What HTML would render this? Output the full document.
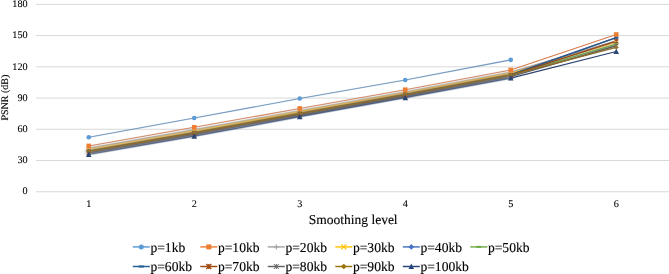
<!DOCTYPE html>
<html><head><meta charset="utf-8"><style>
html,body{margin:0;padding:0;background:#fff;}
body{width:669px;height:274px;overflow:hidden;}
svg{display:block;will-change:transform;}
text{font-family:"Liberation Serif",serif;text-rendering:geometricPrecision;fill:#000;stroke:#000;stroke-width:0.12px;}
text.t{stroke-width:0.08px;}
</style></head><body>
<svg width="669" height="274" viewBox="0 0 669 274">
<defs><filter id="soft" x="-5%" y="-5%" width="110%" height="110%"><feGaussianBlur stdDeviation="0.4"/><feColorMatrix type="saturate" values="0.85"/></filter><filter id="lineblur" x="-5%" y="-20%" width="110%" height="140%"><feGaussianBlur stdDeviation="2.5 0.3"/><feColorMatrix type="saturate" values="0.85"/></filter><filter id="lineblur2" x="-5%" y="-20%" width="110%" height="140%"><feGaussianBlur stdDeviation="1.2 0.15"/><feColorMatrix type="saturate" values="0.7"/></filter><filter id="soft2" x="-5%" y="-50%" width="110%" height="200%"><feGaussianBlur stdDeviation="0.25"/></filter></defs>
<rect width="669" height="274" fill="#fff"/>
<line x1="36" y1="191.75" x2="669" y2="191.75" stroke="#D9D9D9" stroke-width="1"/>
<line x1="36" y1="160.52" x2="669" y2="160.52" stroke="#D9D9D9" stroke-width="1"/>
<line x1="36" y1="129.28" x2="669" y2="129.28" stroke="#D9D9D9" stroke-width="1"/>
<line x1="36" y1="98.05" x2="669" y2="98.05" stroke="#D9D9D9" stroke-width="1"/>
<line x1="36" y1="66.82" x2="669" y2="66.82" stroke="#D9D9D9" stroke-width="1"/>
<line x1="36" y1="35.58" x2="669" y2="35.58" stroke="#D9D9D9" stroke-width="1"/>
<line x1="36" y1="4.35" x2="669" y2="4.35" stroke="#D9D9D9" stroke-width="1"/>
<text class="t" x="27.6" y="194.45" font-size="10.2" text-anchor="end">0</text>
<text class="t" x="27.6" y="163.22" font-size="10.2" text-anchor="end">30</text>
<text class="t" x="27.6" y="131.98" font-size="10.2" text-anchor="end">60</text>
<text class="t" x="27.6" y="100.75" font-size="10.2" text-anchor="end">90</text>
<text class="t" x="27.6" y="69.52" font-size="10.2" text-anchor="end">120</text>
<text class="t" x="27.6" y="38.28" font-size="10.2" text-anchor="end">150</text>
<text class="t" x="27.6" y="7.05" font-size="10.2" text-anchor="end">180</text>
<text class="t" x="88.75" y="206.6" font-size="10.2" text-anchor="middle">1</text>
<text class="t" x="194.25" y="206.6" font-size="10.2" text-anchor="middle">2</text>
<text class="t" x="299.75" y="206.6" font-size="10.2" text-anchor="middle">3</text>
<text class="t" x="405.25" y="206.6" font-size="10.2" text-anchor="middle">4</text>
<text class="t" x="510.75" y="206.6" font-size="10.2" text-anchor="middle">5</text>
<text class="t" x="616.25" y="206.6" font-size="10.2" text-anchor="middle">6</text>
<text x="353.20" y="223.8" font-size="13.5" text-anchor="middle">Smoothing level</text>
<text transform="translate(8.0,97.6) rotate(-90)" font-size="10" text-anchor="middle">PSNR (dB)</text>
<g filter="url(#lineblur2)">
<path d="M88.75 137.30 L194.25 118.04 L299.75 98.47 L405.25 79.93 L510.75 59.84" stroke="#5693ca" stroke-width="1.1" fill="none" stroke-linejoin="round" stroke-linecap="round"/>
<path d="M88.75 145.94 L194.25 127.31 L299.75 108.46 L405.25 89.72 L510.75 69.94" stroke="#e1762e" stroke-width="1.1" fill="none" stroke-linejoin="round" stroke-linecap="round"/>
</g>
<g filter="url(#lineblur)">
<path d="M88.75 148.33 L194.25 129.78 L299.75 110.76 L405.25 91.94 L510.75 72.21" stroke="#9c9c9c" stroke-width="1.45" fill="none" stroke-linejoin="round" stroke-linecap="round"/>
<path d="M88.75 149.36 L194.25 130.84 L299.75 111.75 L405.25 92.89 L510.75 73.19" stroke="#f2b600" stroke-width="1.45" fill="none" stroke-linejoin="round" stroke-linecap="round"/>
<path d="M88.75 150.89 L194.25 132.44 L299.75 113.23 L405.25 94.31 L510.75 74.65" stroke="#406cba" stroke-width="1.45" fill="none" stroke-linejoin="round" stroke-linecap="round"/>
<path d="M88.75 151.23 L194.25 132.79 L299.75 113.56 L405.25 94.63 L510.75 74.97" stroke="#6aa443" stroke-width="1.45" fill="none" stroke-linejoin="round" stroke-linecap="round"/>
<path d="M88.75 151.06 L194.25 132.61 L299.75 113.40 L405.25 94.47 L510.75 74.81" stroke="#235989" stroke-width="1.45" fill="none" stroke-linejoin="round" stroke-linecap="round"/>
<path d="M88.75 151.40 L194.25 132.97 L299.75 113.72 L405.25 94.79 L510.75 75.14" stroke="#96440d" stroke-width="1.45" fill="none" stroke-linejoin="round" stroke-linecap="round"/>
<path d="M88.75 152.94 L194.25 134.56 L299.75 115.21 L405.25 96.21 L510.75 76.60" stroke="#5e5e5e" stroke-width="1.45" fill="none" stroke-linejoin="round" stroke-linecap="round"/>
<path d="M88.75 151.23 L194.25 132.79 L299.75 113.56 L405.25 94.63 L510.75 74.97" stroke="#916d00" stroke-width="1.45" fill="none" stroke-linejoin="round" stroke-linecap="round"/>
<path d="M88.75 154.48 L194.25 136.15 L299.75 116.69 L405.25 97.63 L510.75 78.06" stroke="#244072" stroke-width="1.2" fill="none" stroke-linejoin="round" stroke-linecap="round"/>
</g>
<g filter="url(#soft)">

<path d="M510.75 69.94 L616.25 34.54" stroke="#e1762e" stroke-width="1.1" fill="none" stroke-linejoin="round" stroke-linecap="round"/>
<path d="M510.75 72.21 L616.25 40.89" stroke="#9c9c9c" stroke-width="1.45" fill="none" stroke-linejoin="round" stroke-linecap="round"/>
<path d="M510.75 73.19 L616.25 42.66" stroke="#f2b600" stroke-width="1.45" fill="none" stroke-linejoin="round" stroke-linecap="round"/>
<path d="M510.75 74.65 L616.25 37.67" stroke="#406cba" stroke-width="1.45" fill="none" stroke-linejoin="round" stroke-linecap="round"/>
<path d="M510.75 74.97 L616.25 44.22" stroke="#6aa443" stroke-width="1.45" fill="none" stroke-linejoin="round" stroke-linecap="round"/>
<path d="M510.75 74.81 L616.25 37.67" stroke="#235989" stroke-width="1.45" fill="none" stroke-linejoin="round" stroke-linecap="round"/>
<path d="M510.75 75.14 L616.25 41.10" stroke="#96440d" stroke-width="1.45" fill="none" stroke-linejoin="round" stroke-linecap="round"/>
<path d="M510.75 76.60 L616.25 45.79" stroke="#5e5e5e" stroke-width="1.45" fill="none" stroke-linejoin="round" stroke-linecap="round"/>
<path d="M510.75 74.97 L616.25 47.35" stroke="#916d00" stroke-width="1.45" fill="none" stroke-linejoin="round" stroke-linecap="round"/>
<path d="M510.75 78.06 L616.25 51.51" stroke="#244072" stroke-width="1.2" fill="none" stroke-linejoin="round" stroke-linecap="round"/>
</g>
<g filter="url(#soft)">
<path d="M88.75 146.33V150.33M86.75 148.33H90.75" stroke="#A5A5A5" stroke-width="1.2" fill="none"/>
<path d="M194.25 127.78V131.78M192.25 129.78H196.25" stroke="#A5A5A5" stroke-width="1.2" fill="none"/>
<path d="M299.75 108.76V112.76M297.75 110.76H301.75" stroke="#A5A5A5" stroke-width="1.2" fill="none"/>
<path d="M405.25 89.94V93.94M403.25 91.94H407.25" stroke="#A5A5A5" stroke-width="1.2" fill="none"/>
<path d="M510.75 70.21V74.21M508.75 72.21H512.75" stroke="#A5A5A5" stroke-width="1.2" fill="none"/>
<path d="M616.25 38.89V42.89M614.25 40.89H618.25" stroke="#A5A5A5" stroke-width="1.2" fill="none"/>
<path d="M86.75 147.36L90.75 151.36M86.75 151.36L90.75 147.36" stroke="#FFC000" stroke-width="1.2" fill="none"/>
<path d="M192.25 128.84L196.25 132.84M192.25 132.84L196.25 128.84" stroke="#FFC000" stroke-width="1.2" fill="none"/>
<path d="M297.75 109.75L301.75 113.75M297.75 113.75L301.75 109.75" stroke="#FFC000" stroke-width="1.2" fill="none"/>
<path d="M403.25 90.89L407.25 94.89M403.25 94.89L407.25 90.89" stroke="#FFC000" stroke-width="1.2" fill="none"/>
<path d="M508.75 71.19L512.75 75.19M508.75 75.19L512.75 71.19" stroke="#FFC000" stroke-width="1.2" fill="none"/>
<path d="M614.25 40.66L618.25 44.66M614.25 44.66L618.25 40.66" stroke="#FFC000" stroke-width="1.2" fill="none"/>
<path d="M88.75 148.59L91.05 150.89L88.75 153.19L86.45 150.89Z" fill="#4472C4"/>
<path d="M194.25 130.14L196.55 132.44L194.25 134.74L191.95 132.44Z" fill="#4472C4"/>
<path d="M299.75 110.93L302.05 113.23L299.75 115.53L297.45 113.23Z" fill="#4472C4"/>
<path d="M405.25 92.01L407.55 94.31L405.25 96.61L402.95 94.31Z" fill="#4472C4"/>
<path d="M510.75 72.35L513.05 74.65L510.75 76.95L508.45 74.65Z" fill="#4472C4"/>
<path d="M616.25 35.37L618.55 37.67L616.25 39.97L613.95 37.67Z" fill="#4472C4"/>
<path d="M86.75 151.23H90.75" stroke="#70AD47" stroke-width="2.1" fill="none"/>
<path d="M192.25 132.79H196.25" stroke="#70AD47" stroke-width="2.1" fill="none"/>
<path d="M297.75 113.56H301.75" stroke="#70AD47" stroke-width="2.1" fill="none"/>
<path d="M403.25 94.63H407.25" stroke="#70AD47" stroke-width="2.1" fill="none"/>
<path d="M508.75 74.97H512.75" stroke="#70AD47" stroke-width="2.1" fill="none"/>
<path d="M614.25 44.22H618.25" stroke="#70AD47" stroke-width="2.1" fill="none"/>
<path d="M86.75 151.06H90.75" stroke="#255E91" stroke-width="2.1" fill="none"/>
<path d="M192.25 132.61H196.25" stroke="#255E91" stroke-width="2.1" fill="none"/>
<path d="M297.75 113.40H301.75" stroke="#255E91" stroke-width="2.1" fill="none"/>
<path d="M403.25 94.47H407.25" stroke="#255E91" stroke-width="2.1" fill="none"/>
<path d="M508.75 74.81H512.75" stroke="#255E91" stroke-width="2.1" fill="none"/>
<path d="M614.25 37.67H618.25" stroke="#255E91" stroke-width="2.1" fill="none"/>
<path d="M86.75 149.40L90.75 153.40M86.75 153.40L90.75 149.40M88.75 149.40V153.40" stroke="#9E480E" stroke-width="1.3" fill="none"/>
<path d="M192.25 130.97L196.25 134.97M192.25 134.97L196.25 130.97M194.25 130.97V134.97" stroke="#9E480E" stroke-width="1.3" fill="none"/>
<path d="M297.75 111.72L301.75 115.72M297.75 115.72L301.75 111.72M299.75 111.72V115.72" stroke="#9E480E" stroke-width="1.3" fill="none"/>
<path d="M403.25 92.79L407.25 96.79M403.25 96.79L407.25 92.79M405.25 92.79V96.79" stroke="#9E480E" stroke-width="1.3" fill="none"/>
<path d="M508.75 73.14L512.75 77.14M508.75 77.14L512.75 73.14M510.75 73.14V77.14" stroke="#9E480E" stroke-width="1.3" fill="none"/>
<path d="M614.25 39.10L618.25 43.10M614.25 43.10L618.25 39.10M616.25 39.10V43.10" stroke="#9E480E" stroke-width="1.3" fill="none"/>
<path d="M86.75 150.94L90.75 154.94M86.75 154.94L90.75 150.94M88.75 150.94V154.94" stroke="#636363" stroke-width="1.0" fill="none"/>
<path d="M192.25 132.56L196.25 136.56M192.25 136.56L196.25 132.56M194.25 132.56V136.56" stroke="#636363" stroke-width="1.0" fill="none"/>
<path d="M297.75 113.21L301.75 117.21M297.75 117.21L301.75 113.21M299.75 113.21V117.21" stroke="#636363" stroke-width="1.0" fill="none"/>
<path d="M403.25 94.21L407.25 98.21M403.25 98.21L407.25 94.21M405.25 94.21V98.21" stroke="#636363" stroke-width="1.0" fill="none"/>
<path d="M508.75 74.60L512.75 78.60M508.75 78.60L512.75 74.60M510.75 74.60V78.60" stroke="#636363" stroke-width="1.0" fill="none"/>
<path d="M614.25 43.79L618.25 47.79M614.25 47.79L618.25 43.79M616.25 43.79V47.79" stroke="#636363" stroke-width="1.0" fill="none"/>
<path d="M88.75 148.93L91.05 151.23L88.75 153.53L86.45 151.23Z" fill="#997300"/>
<path d="M194.25 130.49L196.55 132.79L194.25 135.09L191.95 132.79Z" fill="#997300"/>
<path d="M299.75 111.26L302.05 113.56L299.75 115.86L297.45 113.56Z" fill="#997300"/>
<path d="M405.25 92.33L407.55 94.63L405.25 96.93L402.95 94.63Z" fill="#997300"/>
<path d="M510.75 72.67L513.05 74.97L510.75 77.27L508.45 74.97Z" fill="#997300"/>
<path d="M616.25 45.05L618.55 47.35L616.25 49.65L613.95 47.35Z" fill="#997300"/>
<path d="M88.75 151.48L91.55 156.98L85.95 156.98Z" fill="#264478"/>
<path d="M194.25 133.15L197.05 138.65L191.45 138.65Z" fill="#264478"/>
<path d="M299.75 113.69L302.55 119.19L296.95 119.19Z" fill="#264478"/>
<path d="M405.25 94.63L408.05 100.13L402.45 100.13Z" fill="#264478"/>
<path d="M510.75 75.06L513.55 80.56L507.95 80.56Z" fill="#264478"/>
<path d="M616.25 48.51L619.05 54.01L613.45 54.01Z" fill="#264478"/>
</g>
<g filter="url(#soft2)">
<rect x="86.45" y="143.64" width="4.6" height="4.6" fill="#ED7D31"/>
<rect x="191.95" y="125.01" width="4.6" height="4.6" fill="#ED7D31"/>
<rect x="297.45" y="106.16" width="4.6" height="4.6" fill="#ED7D31"/>
<rect x="402.95" y="87.42" width="4.6" height="4.6" fill="#ED7D31"/>
<rect x="508.45" y="67.64" width="4.6" height="4.6" fill="#ED7D31"/>
<rect x="613.95" y="32.24" width="4.6" height="4.6" fill="#ED7D31"/>
<circle cx="88.75" cy="137.30" r="2.30" fill="#5B9BD5"/>
<circle cx="194.25" cy="118.04" r="2.30" fill="#5B9BD5"/>
<circle cx="299.75" cy="98.47" r="2.30" fill="#5B9BD5"/>
<circle cx="405.25" cy="79.93" r="2.30" fill="#5B9BD5"/>
<circle cx="510.75" cy="59.84" r="2.30" fill="#5B9BD5"/>
</g>
<g filter="url(#soft2)">
<line x1="132.80" y1="246.9" x2="149.80" y2="246.9" stroke="#5B9BD5" stroke-width="1.45"/>
<circle cx="141.30" cy="246.90" r="2.50" fill="#5B9BD5"/>
<line x1="200.30" y1="246.9" x2="217.30" y2="246.9" stroke="#ED7D31" stroke-width="1.45"/>
<rect x="206.30" y="244.40" width="5" height="5" fill="#ED7D31"/>
<line x1="267.80" y1="246.9" x2="284.80" y2="246.9" stroke="#A5A5A5" stroke-width="1.45"/>
<path d="M276.30 244.40V249.40M273.80 246.90H278.80" stroke="#A5A5A5" stroke-width="1.2" fill="none"/>
<line x1="335.30" y1="246.9" x2="352.30" y2="246.9" stroke="#FFC000" stroke-width="1.45"/>
<path d="M341.30 244.40L346.30 249.40M341.30 249.40L346.30 244.40" stroke="#FFC000" stroke-width="1.2" fill="none"/>
<line x1="402.80" y1="246.9" x2="419.80" y2="246.9" stroke="#4472C4" stroke-width="1.45"/>
<path d="M411.30 244.10L414.10 246.90L411.30 249.70L408.50 246.90Z" fill="#4472C4"/>
<line x1="470.30" y1="246.9" x2="487.30" y2="246.9" stroke="#70AD47" stroke-width="1.45"/>
<path d="M476.30 246.90H481.30" stroke="#70AD47" stroke-width="2.1" fill="none"/>
<line x1="132.80" y1="266.5" x2="149.80" y2="266.5" stroke="#255E91" stroke-width="1.45"/>
<path d="M138.80 266.50H143.80" stroke="#255E91" stroke-width="2.1" fill="none"/>
<line x1="200.30" y1="266.5" x2="217.30" y2="266.5" stroke="#9E480E" stroke-width="1.45"/>
<path d="M206.30 264.00L211.30 269.00M206.30 269.00L211.30 264.00M208.80 264.00V269.00" stroke="#9E480E" stroke-width="1.3" fill="none"/>
<line x1="267.80" y1="266.5" x2="284.80" y2="266.5" stroke="#636363" stroke-width="1.45"/>
<path d="M273.80 264.00L278.80 269.00M273.80 269.00L278.80 264.00M276.30 264.00V269.00" stroke="#636363" stroke-width="1.0" fill="none"/>
<line x1="335.30" y1="266.5" x2="352.30" y2="266.5" stroke="#997300" stroke-width="1.45"/>
<path d="M343.80 263.70L346.60 266.50L343.80 269.30L341.00 266.50Z" fill="#997300"/>
<line x1="402.80" y1="266.5" x2="419.80" y2="266.5" stroke="#264478" stroke-width="1.45"/>
<path d="M411.30 263.50L414.10 269.00L408.50 269.00Z" fill="#264478"/>
</g>
<text x="150.40" y="251.9" font-size="13.6">p=1kb</text>
<text x="217.90" y="251.9" font-size="13.6">p=10kb</text>
<text x="285.40" y="251.9" font-size="13.6">p=20kb</text>
<text x="352.90" y="251.9" font-size="13.6">p=30kb</text>
<text x="420.40" y="251.9" font-size="13.6">p=40kb</text>
<text x="487.90" y="251.9" font-size="13.6">p=50kb</text>
<text x="150.40" y="271.3" font-size="13.6">p=60kb</text>
<text x="217.90" y="271.3" font-size="13.6">p=70kb</text>
<text x="285.40" y="271.3" font-size="13.6">p=80kb</text>
<text x="352.90" y="271.3" font-size="13.6">p=90kb</text>
<text x="420.40" y="271.3" font-size="13.6">p=100kb</text>
</svg></body></html>
